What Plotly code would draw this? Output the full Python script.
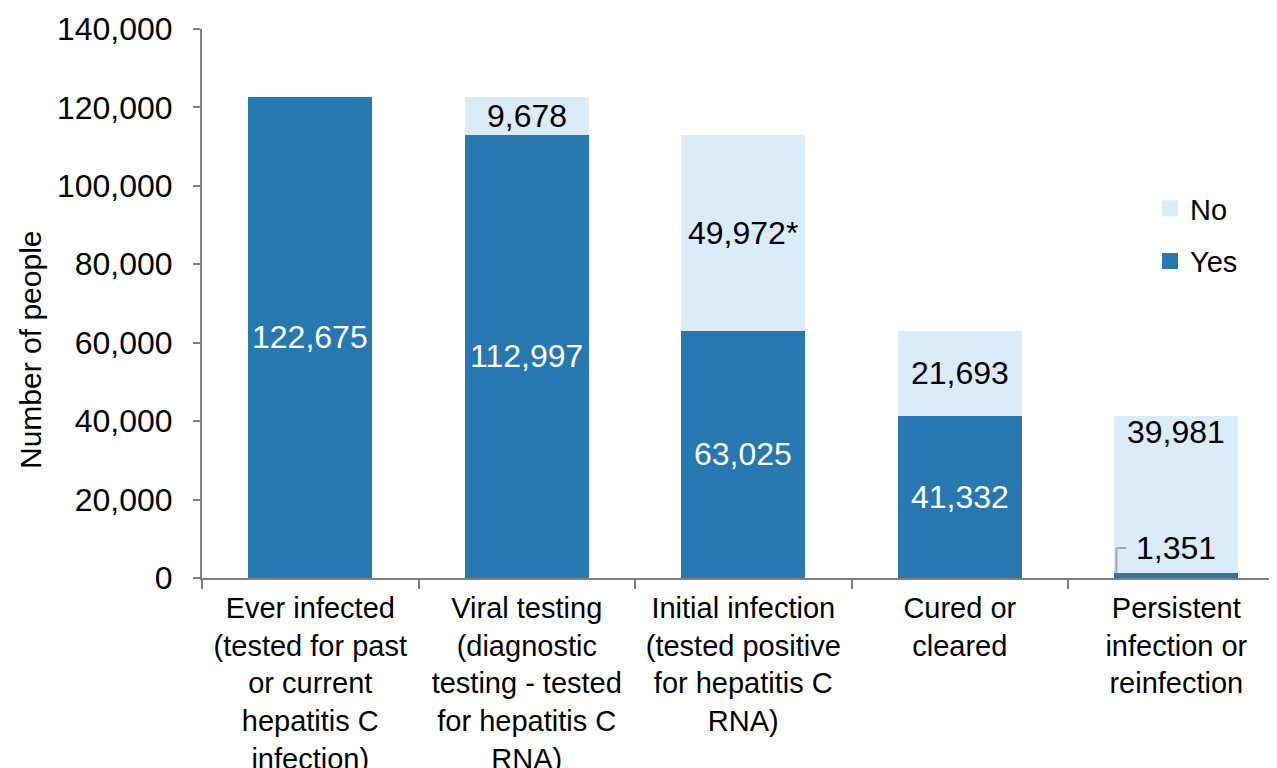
import plotly.graph_objects as go

categories = [
    "Ever infected<br>(tested for past<br>or current<br>hepatitis C<br>infection)",
    "Viral testing<br>(diagnostic<br>testing - tested<br>for hepatitis C<br>RNA)",
    "Initial infection<br>(tested positive<br>for hepatitis C<br>RNA)",
    "Cured or<br>cleared",
    "Persistent<br>infection or<br>reinfection",
]
yes_values = [122675, 112997, 63025, 41332, 1351]
no_values = [None, 9678, 49972, 21693, 39981]
yes_labels = ["122,675", "112,997", "63,025", "41,332", "1,351"]
no_labels = [None, "9,678", "49,972*", "21,693", "39,981"]
y_ticks = [0, 20000, 40000, 60000, 80000, 100000, 120000, 140000]

DARK = "#2777B1"
LIGHT = "#DAEBF9"
FONT = "Liberation Sans, Arial, sans-serif"
LBL = 32

fig = go.Figure()
fig.add_trace(go.Bar(x=categories, y=yes_values, name="Yes", marker_color=DARK,
                     marker_line_width=0, showlegend=False))
fig.add_trace(go.Bar(x=categories, y=no_values, name="No", marker_color=LIGHT,
                     marker_line_width=0, showlegend=False))
# legend entries (square markers)
fig.add_trace(go.Scatter(x=[None], y=[None], mode="markers", name="No",
                         marker=dict(symbol="square", size=17, color=LIGHT),
                         legendgroup="no", legendrank=1))
fig.add_trace(go.Scatter(x=[None], y=[None], mode="markers", name="Yes",
                         marker=dict(symbol="square", size=17, color=DARK),
                         legendgroup="yes", legendrank=2))

annotations = []
for i in range(5):
    y = yes_values[i]
    n = no_values[i]
    if i < 4:
        annotations.append(dict(x=i, y=y / 2, xref="x", yref="y", text=yes_labels[i],
                                showarrow=False, font=dict(color="white", size=LBL, family=FONT)))
    else:
        annotations.append(dict(x=i, y=y + 6300, xref="x", yref="y", text=yes_labels[i],
                                showarrow=False, font=dict(color="black", size=LBL, family=FONT)))
    if n is not None:
        if i < 4:
            annotations.append(dict(x=i, y=y + n / 2, xref="x", yref="y", text=no_labels[i],
                                    showarrow=False, font=dict(color="black", size=LBL, family=FONT)))
        else:
            annotations.append(dict(x=i, y=y + n, xref="x", yref="y", text=no_labels[i],
                                    yanchor="top", yshift=4, showarrow=False,
                                    font=dict(color="black", size=LBL, family=FONT)))

# y-axis title
annotations.append(dict(x=(30 - 202) / 1075, y=(578 - 350) / 549, xref="paper", yref="paper",
                        xanchor="center", yanchor="middle",
                        text="Number of people", showarrow=False, textangle=-90,
                        font=dict(size=30, color="black", family=FONT)))

# leader line for 1,351 label
leader_y = yes_values[4] + 6300
fig.add_shape(type="line", xref="x", yref="y", x0=3.723, x1=3.723, y0=yes_values[4], y1=leader_y,
              line=dict(color="#A6A6A6", width=2))
fig.add_shape(type="line", xref="x", yref="y", x0=3.723, x1=3.77, y0=leader_y, y1=leader_y,
              line=dict(color="#A6A6A6", width=2))

# page body has an 8px default margin: size the figure to fit the window exactly
fig.update_layout(
    barmode="stack",
    bargap=0.428,
    width=1269, height=760,
    margin=dict(l=194, r=0, t=21, b=190),
    plot_bgcolor="white", paper_bgcolor="white",
    font=dict(family=FONT, color="black"),
    annotations=annotations,
    showlegend=True,
    legend=dict(x=(1150 - 202) / 1075, y=(578 - 183) / 549, xanchor="left", yanchor="top",
                traceorder="grouped", tracegroupgap=12,
                font=dict(size=29, family=FONT, color="black"), bgcolor="rgba(0,0,0,0)"),
)
fig.update_xaxes(
    type="category", tickson="boundaries", automargin=False,
    range=[-0.5, 4.465], showline=True, linecolor="#808080", linewidth=2,
    ticks="outside", ticklen=9, tickcolor="#808080", tickwidth=2,
    tickfont=dict(size=29, family=FONT, color="black"), showgrid=False, zeroline=False,
    ticklabelstandoff=3,
)
fig.update_yaxes(
    range=[0, 140000], tickvals=y_ticks, tickformat=",d", automargin=False,
    showline=True, linecolor="#808080", linewidth=2,
    ticks="outside", ticklen=7, tickcolor="#808080", tickwidth=2,
    tickfont=dict(size=32, family=FONT, color="black"), showgrid=False, zeroline=False,
    ticklabelstandoff=14,
)

fig.write_html("out.html")
